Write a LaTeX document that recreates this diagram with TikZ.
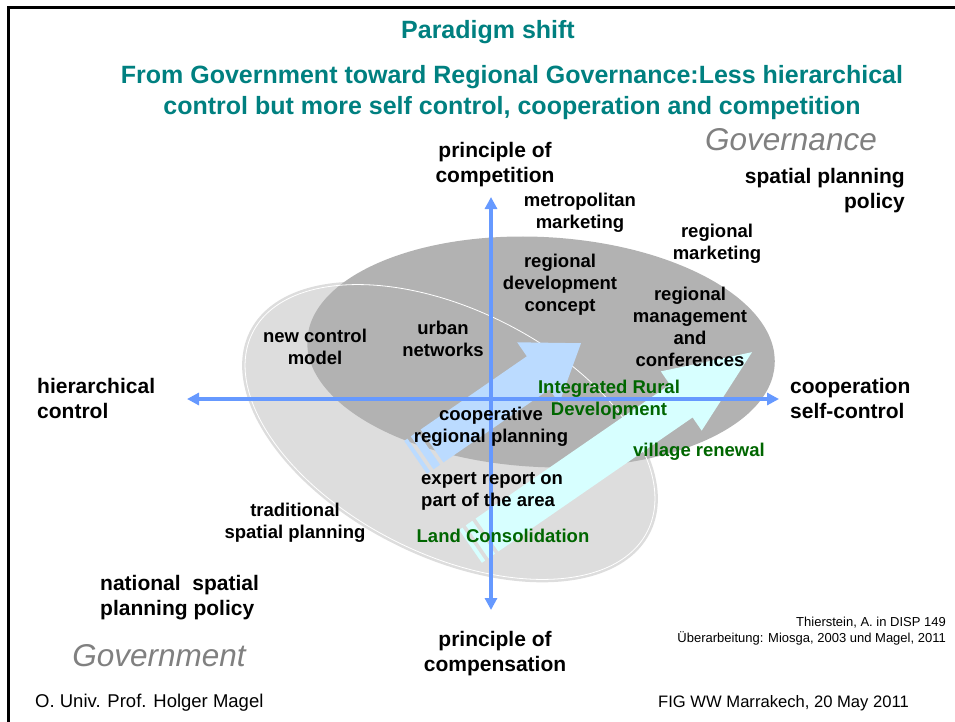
\documentclass[tikz,border=0pt]{standalone}
\usepackage{fontspec}
\setmainfont{Liberation Sans}
\usetikzlibrary{arrows.meta}

\definecolor{titlecol}{RGB}{0,128,128}
\definecolor{greencol}{RGB}{0,102,0}
\definecolor{axiscol}{RGB}{102,153,255}
\definecolor{arrowblue}{RGB}{187,219,255}
\definecolor{arrowcyan}{RGB}{215,255,255}
\definecolor{lightell}{RGB}{221,221,221}
\definecolor{darkell}{RGB}{178,178,178}
\definecolor{govgray}{RGB}{128,128,128}

\begin{document}
\begin{tikzpicture}[x=1pt,y=-1pt,
    lbl/.style={font=\fontsize{18.5}{22}\selectfont\bfseries, align=center, inner sep=0pt},
    grn/.style={lbl, text=greencol},
    axlbl/.style={font=\fontsize{21}{25}\selectfont\bfseries, align=center, inner sep=0pt},
    govtext/.style={font=\fontsize{31.5}{36}\selectfont\itshape, text=govgray, inner sep=0pt},
    titletext/.style={font=\fontsize{25}{31}\selectfont\bfseries, text=titlecol, align=center, inner sep=0pt},
    foot/.style={inner sep=0pt, anchor=west},
    axis/.style={axiscol, line width=4pt, {Triangle[length=12pt,width=12pt]}-{Triangle[length=12pt,width=12pt]}}]
    \useasboundingbox (0,0) rectangle (955,722);

    % frame
    \draw[line width=3pt] (8.5,722) -- (8.5,7.5) -- (955,7.5);

    % ellipses
    \fill[lightell] (450,432) circle[x radius=224pt, y radius=125pt, rotate=-26.7];
    \fill[darkell] (541,352) circle[x radius=234pt, y radius=115pt, rotate=-3];
    \draw[white, line width=0.8pt] (450,432) circle[x radius=221pt, y radius=122pt, rotate=-26.7];

    % striped arrows
    \begin{scope}[shift={(432,446)}, rotate=34.6]
        \fill[arrowblue] (0,-20) -- (129,-20) -- (129,-37) -- (181,0) -- (129,37) -- (129,20) -- (0,20) -- cycle;
        \fill[arrowblue] (-12,-20) rectangle (-4,20);
        \fill[arrowblue] (-20,-20) rectangle (-16,20);
    \end{scope}
    \begin{scope}[shift={(487,535)}, rotate=34.6]
        \fill[arrowcyan] (0,-20) -- (236,-20) -- (236,-36) -- (322,0) -- (236,36) -- (236,20) -- (0,20) -- cycle;
        \fill[arrowcyan] (-12,-20) rectangle (-4,20);
        \fill[arrowcyan] (-20,-20) rectangle (-16,20);
    \end{scope}

    % axes
    \coordinate (ytop) at (491,197);
    \coordinate (ybot) at (491,610);
    \coordinate (xleft) at (187,399);
    \coordinate (xright) at (779,399);
    \draw[axis] (ybot) -- (ytop);
    \draw[axis] (xleft) -- (xright);

    % titles
    \node[titletext] (title) at (488,32) {Paradigm shift};
    \node[titletext] (subtitle) at (512,93) {From Government toward Regional Governance:Less hierarchical\\control but more self control, cooperation and competition};
    \node[govtext] (gov1) at (791,140) {Governance};
    \node[govtext] (gov2) at (159,656) {Government};

    % axis labels
    \node[axlbl] (competition) at (495,165) {principle of\\competition};
    \node[axlbl] (compensation) at (495,654) {principle of\\compensation};
    \node[axlbl, align=left, anchor=west] (hierarchy) at (37,398) {hierarchical\\control};
    \node[axlbl, align=left, anchor=west] (cooperation) at (790,398) {cooperation\\self-control};
    \node[axlbl, align=right, anchor=east] (spatialpol) at (905,191) {spatial planning\\policy};
    \node[axlbl, align=left, anchor=west] (nationalpol) at (100,598) {national~ spatial\\planning policy};

    % quadrant labels
    \node[lbl] (metro) at (580,213) {metropolitan\\marketing};
    \node[lbl] (devconcept) at (560,285) {regional\\development\\concept};
    \node[lbl] (regmarket) at (717,244) {regional\\marketing};
    \node[lbl] (regmanage) at (690,327) {regional\\management\\and\\conferences};
    \node[lbl] (newcontrol) at (315,347) {new control\\model};
    \node[lbl] (urban) at (443,339) {urban\\networks};
    \node[grn] (ird) at (609,400) {Integrated Rural\\Development};
    \node[lbl] (coopplan) at (491,427) {cooperative\\regional planning};
    \node[lbl, align=left, anchor=west] (expert) at (421,491) {expert report on\\part of the area};
    \node[grn] (landcons) at (503,536) {Land Consolidation};
    \node[grn] (village) at (699,452) {village renewal};
    \node[lbl] (traditional) at (295,523) {traditional\\spatial planning};

    % source and footer
    \node[font=\fontsize{13}{16}\selectfont, align=right, anchor=east, inner sep=0pt] (source) at (946,631) {Thierstein, A. in DISP 149\\Überarbeitung: Miosga, 2003 und Magel, 2011};
    \node[foot, font=\fontsize{18.5}{22}\selectfont] (author) at (35,703) {O. Univ. Prof. Holger Magel};
    \node[foot, font=\fontsize{16.6}{20}\selectfont] (event) at (658,703) {FIG WW Marrakech, 20 May 2011};
\end{tikzpicture}
\end{document}
